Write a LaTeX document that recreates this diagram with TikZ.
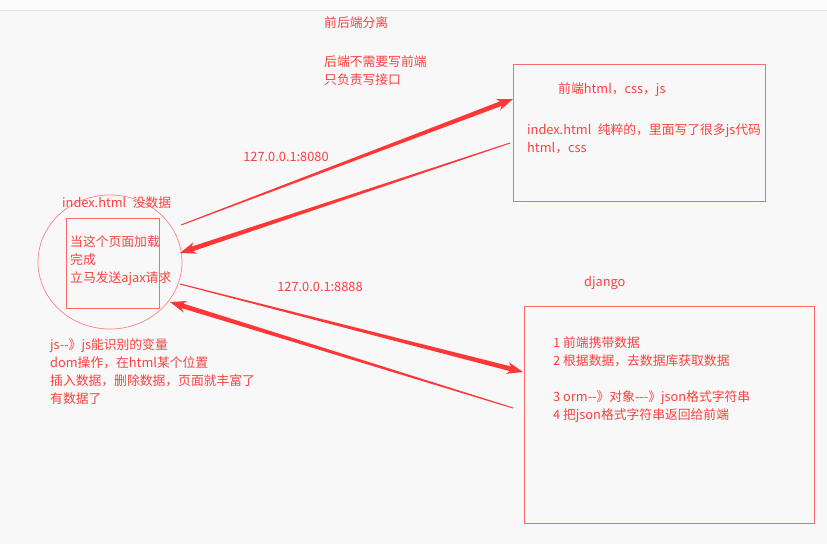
\documentclass[tikz,border=0pt]{standalone}
\usepackage{fontspec}
\setmainfont{Noto Sans CJK SC}
\usetikzlibrary{calc,shapes.geometric}
\definecolor{txtred}{RGB}{250,65,65}
\definecolor{boxred}{RGB}{255,105,105}
\definecolor{circred}{RGB}{255,130,130}
\definecolor{arrred}{RGB}{255,55,55}
\definecolor{bg}{RGB}{248,248,248}
\definecolor{topbg}{RGB}{252,252,252}
\definecolor{topline}{RGB}{228,228,228}
\tikzset{
  lbl/.style={text=txtred, inner sep=0pt, font=\fontsize{12.8}{18}\selectfont},
  para/.style={lbl, align=left, anchor=north west},
  frame/.style={draw=boxred, line width=0.8pt, inner sep=0pt, anchor=north west},
}
\newcommand\taperarrow[2]{%
  \coordinate (ta) at (#1);
  \coordinate (tb) at (#2);
  \coordinate (tn) at ($(tb)!13pt!(ta)$);
  \coordinate (tk) at ($(tb)!16pt!(ta)$);
  \fill[arrred] ($(ta)!0.5pt!90:(tb)$) -- ($(tn)!2.4pt!-90:(ta)$) -- ($(tk)!6pt!-90:(ta)$) -- (tb)
     -- ($(tk)!6pt!90:(ta)$) -- ($(tn)!2.4pt!90:(ta)$) -- ($(ta)!0.5pt!-90:(tb)$) -- cycle;
}
\begin{document}
\begin{tikzpicture}[x=1pt,y=-1pt]
\useasboundingbox (0,0) rectangle (827,544);
\fill[bg] (0,0) rectangle (827,544);
\fill[topbg] (0,0) rectangle (827,10);
\draw[topline, line width=0.6pt] (0,10) -- (827,10);

% top texts
\node[lbl, anchor=west] (title) at (324,23) {前后端分离};
\node[para] (note) at (324,55) {后端不需要写前端\\只负责写接口};

% front-end box
\node[frame, minimum width=252pt, minimum height=137pt] (fe) at (513,64) {};
\node[lbl, anchor=west] (fehead) at (558,90) {前端html，css，js};
\node[para] (fetext) at (527,123) {index.html\enspace 纯粹的，里面写了很多js代码\\html，css};

% page circle
\node[draw=circred, line width=0.7pt, ellipse, minimum width=144pt, minimum height=134pt, inner sep=0pt] (pg) at (110,262) {};
\node[frame, minimum width=93pt, minimum height=90pt] (pgin) at (66,218) {};
\node[lbl, anchor=west] (pghead) at (62,203) {index.html\enspace 没数据};
\node[para] (pgtext) at (70,235) {当这个页面加载\\完成\\立马发送ajax请求};

% left bottom text
\node[para] (jsnote) at (50,338) {js-{}-》js能识别的变量\\dom操作，在html某个位置\\插入数据，删除数据，页面就丰富了\\有数据了};

% django box
\node[lbl, anchor=west] (dj) at (584,283) {django};
\node[frame, minimum width=290pt, minimum height=217pt] (db) at (524,306) {};
\node[para] (dbtext) at (553,336) {1 前端携带数据\\2 根据数据，去数据库获取数据\\[18pt]3 orm-{}-》对象-{}-{}-》json格式字符串\\4 把json格式字符串返回给前端};

% port labels
\node[lbl] (p1) at (286,157) {127.0.0.1:8080};
\node[lbl] (p2) at (320,287) {127.0.0.1:8888};

% connector end points
\coordinate (a1s) at (181,225);
\coordinate (a1e) at (513,99);
\coordinate (a2s) at (510,143);
\coordinate (a2e) at (180,253);
\coordinate (a3s) at (180,284);
\coordinate (a3e) at (523,372);
\coordinate (a4s) at (513,408);
\coordinate (a4e) at (170,302);

\taperarrow{a1s}{a1e}
\taperarrow{a2s}{a2e}
\taperarrow{a3s}{a3e}
\taperarrow{a4s}{a4e}
\end{tikzpicture}
\end{document}
